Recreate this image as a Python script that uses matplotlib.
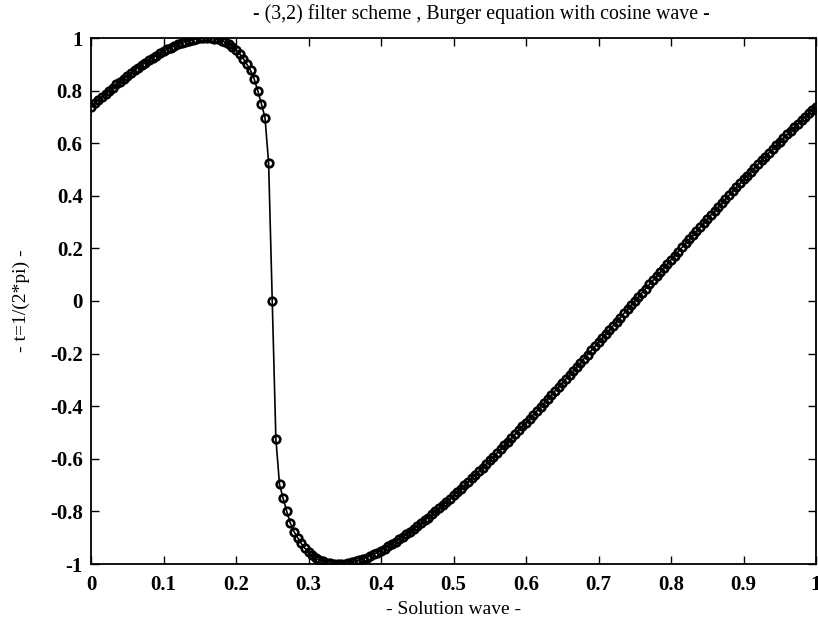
import numpy as np
import matplotlib
matplotlib.use("Agg")
import matplotlib.pyplot as plt

# x grid: 201 points, step 0.005
x = np.linspace(0.0, 1.0, 201)

# solution values (k = 0 .. 200)
u_part1 = [0.739, 0.7515, 0.764, 0.7762, 0.7882, 0.8001, 0.8117, 0.8233, 0.8345, 0.8456,
           0.8564, 0.8669, 0.8774, 0.8873, 0.8971, 0.9065, 0.9157, 0.9245, 0.933, 0.9412,
           0.9488, 0.9563, 0.963, 0.9696, 0.9753, 0.9809, 0.9855, 0.9898, 0.9933, 0.9961,
           0.9983, 0.9997, 1.0, 0.9993, 0.9975, 0.9945, 0.9901, 0.9841, 0.9764, 0.9667,
           0.9548, 0.94, 0.922, 0.9001, 0.877, 0.845, 0.80, 0.75, 0.697, 0.524,
           0.0]
u_part2 = [-0.524, -0.697, -0.75, -0.80, -0.845, -0.877, -0.9001, -0.922, -0.94, -0.9548,
           -0.9667, -0.9764, -0.9841, -0.9901, -0.9945, -0.9975, -0.9993, -1.0, -0.9997, -0.9983,
           -0.9961, -0.9933, -0.9898, -0.9855, -0.9809, -0.9753, -0.9696, -0.963, -0.9563, -0.9488,
           -0.9412, -0.933, -0.9245, -0.9157, -0.9065, -0.8971, -0.8873, -0.8774, -0.8669, -0.8564,
           -0.8456, -0.8345, -0.8233, -0.8117, -0.8001, -0.7882, -0.7762, -0.764, -0.7515, -0.739]
u_part3 = [-0.7263, -0.7134, -0.7004, -0.6872, -0.6739, -0.6606, -0.647, -0.6334, -0.6197, -0.6057,
           -0.5918, -0.5778, -0.5635, -0.5493, -0.535, -0.5205, -0.506, -0.4915, -0.4768, -0.4621,
           -0.4473, -0.4324, -0.4175, -0.4025, -0.3874, -0.3724, -0.3572, -0.342, -0.3268, -0.3115,
           -0.2962, -0.2808, -0.2654, -0.25, -0.2345, -0.219, -0.2035, -0.1879, -0.1724, -0.1567,
           -0.1411, -0.1255, -0.1098, -0.0942, -0.0785, -0.0628, -0.0471, -0.0314, -0.0157, 0.0]
u_part4 = [0.0157, 0.0314, 0.0471, 0.0628, 0.0785, 0.0942, 0.1098, 0.1255, 0.1411, 0.1567,
           0.1724, 0.1879, 0.2035, 0.219, 0.2345, 0.25, 0.2654, 0.2808, 0.2962, 0.3115,
           0.3268, 0.342, 0.3572, 0.3724, 0.3874, 0.4025, 0.4175, 0.4324, 0.4473, 0.4621,
           0.4768, 0.4915, 0.506, 0.5205, 0.535, 0.5493, 0.5635, 0.5778, 0.5918, 0.6057,
           0.6197, 0.6334, 0.647, 0.6606, 0.6739, 0.6872, 0.7004, 0.7134, 0.7263, 0.739]
u = np.array(u_part1 + u_part2 + u_part3 + u_part4)

xticks = [0, 0.1, 0.2, 0.3, 0.4, 0.5, 0.6, 0.7, 0.8, 0.9, 1]
xticklabels = ["0", "0.1", "0.2", "0.3", "0.4", "0.5", "0.6", "0.7", "0.8", "0.9", "1"]
yticks = [-1, -0.8, -0.6, -0.4, -0.2, 0, 0.2, 0.4, 0.6, 0.8, 1]
yticklabels = ["-1", "-0.8", "-0.6", "-0.4", "-0.2", "0", "0.2", "0.4", "0.6", "0.8", "1"]

title = "- (3,2) filter scheme , Burger equation with cosine wave -"
xlabel = "- Solution wave -"
ylabel = "- t=1/(2*pi) -"

plt.rcParams["font.family"] = ["Liberation Serif", "DejaVu Serif"]

fig = plt.figure(figsize=(8.18, 6.31), dpi=100)
ax = fig.add_axes([91 / 818, 1 - 564 / 631, 725 / 818, 526 / 631])

ax.plot(x, u, color="black", linewidth=1.2, marker="o", markersize=5.5,
        markerfacecolor="none", markeredgecolor="black", markeredgewidth=1.9)

ax.set_xlim(0, 1)
ax.set_ylim(-1, 1)
ax.set_xticks(xticks)
ax.set_xticklabels(xticklabels)
ax.set_yticks(yticks)
ax.set_yticklabels(yticklabels)
ax.tick_params(axis="both", direction="in", length=6, width=1, top=True, right=True,
               labelsize=15)
ax.tick_params(axis="x", pad=8)
ax.tick_params(axis="y", pad=6)
for lab in ax.get_xticklabels() + ax.get_yticklabels():
    lab.set_fontweight("bold")
for s in ax.spines.values():
    s.set_linewidth(1.3)

ax.set_title(title, fontsize=14.3, pad=14, x=0.539)
ax.set_xlabel(xlabel, fontsize=14, labelpad=4)
ax.set_ylabel(ylabel, fontsize=14, labelpad=14)

fig.savefig("out.png", dpi=100)
